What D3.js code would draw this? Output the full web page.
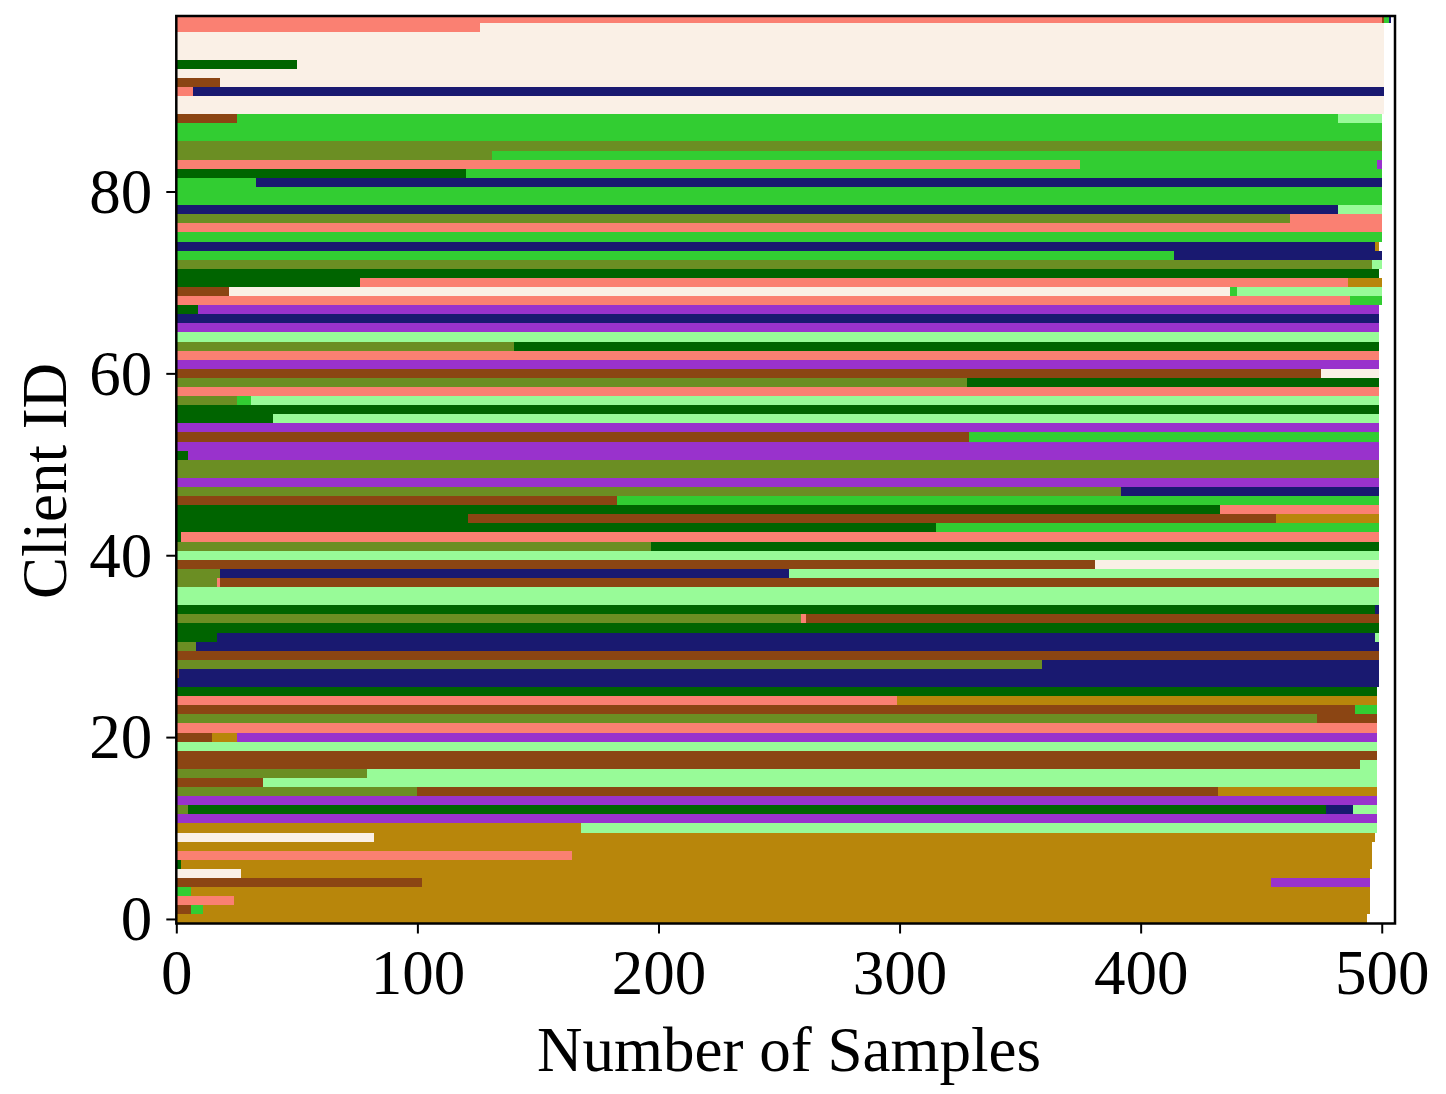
<!DOCTYPE html>
<html>
<head>
<meta charset="utf-8">
<script src="https://d3js.org/d3.v7.min.js"></script>
<style>
   body { margin: 0; background: #fff; }
   text { font-family: "Liberation Serif", "Times New Roman", serif; }
</style>
</head>
<body>
<svg id="chart" width="1446" height="1094"></svg>
<script>
// class colours, in stacking order
var classColors = ["#6b8e23", "#006400", "#fa8072", "#8b4513", "#faf0e6",
                   "#32cd32", "#191970", "#b8860b", "#9932cc", "#98fb98"];

var clientIds = d3.range(100);
var xTicks = [0, 100, 200, 300, 400, 500];
var yTicks = [0, 20, 40, 60, 80];

// samples per client (index = client id), one array per class
var class0 = [0,0,0,0,0,0,0,0,0,0, 0,0,5,0,100,0,79,0,0,0, 0,0,473,0,0,0,0,0,359,0, 8,0,0,259,0,0,0,17,18,0,
              0,197,0,0,0,0,0,392,0,499, 499,0,0,0,0,0,0,25,0,328, 0,0,0,140,0,0,0,0,0,0, 0,0,496,0,0,0,0,462,0,0,
              0,0,0,0,131,500,0,0,0,0, 0,0,0,0,0,0,0,0,0,0];
var class1 = [0,0,0,0,0,0,2,0,0,0, 0,0,472,0,0,0,0,0,0,0, 0,0,0,0,0,498,0,0,0,0, 0,17,499,0,497,0,0,0,0,0,
              0,302,2,315,121,433,0,0,0,0, 0,5,0,0,0,40,499,0,0,171, 0,0,0,359,0,0,0,9,0,0, 76,499,0,0,0,0,0,0,0,0,
              0,0,120,0,0,0,0,0,0,0, 0,0,0,0,50,0,0,0,0,0];
var class2 = [0,0,24,0,0,0,0,164,0,0, 0,0,0,0,0,0,0,0,0,0, 0,498,0,0,299,0,0,0,0,0, 0,0,0,2,0,0,0,1,0,0,
              0,0,497,0,0,66,0,0,0,0, 0,0,0,0,0,0,0,0,499,0, 0,0,499,0,0,0,0,0,487,0, 410,0,0,0,0,0,500,38,0,0,
              0,0,0,375,0,0,0,0,0,0, 0,7,0,0,0,0,0,0,126,500];
var class3 = [0,6,0,0,102,0,0,0,0,0, 0,0,0,0,332,36,0,491,498,0, 15,0,25,489,0,0,0,1,0,499, 0,0,0,238,0,0,0,481,0,381,
              0,0,0,0,335,0,183,0,0,0, 0,0,0,329,0,0,0,0,0,0, 475,0,0,0,0,0,0,0,0,22, 0,0,0,0,0,0,0,0,0,0,
              0,0,0,0,0,0,0,0,25,0, 0,0,18,0,0,0,0,0,0,1];
var class4 = [0,0,0,0,0,27,0,0,0,82, 0,0,0,0,0,0,0,0,0,0, 0,0,0,0,0,0,0,0,0,0, 0,0,0,0,0,0,0,0,0,118,
              0,0,0,0,0,0,0,0,0,0, 0,0,0,0,0,0,0,0,0,0, 24,0,0,0,0,0,0,0,0,415, 0,0,0,0,0,0,0,0,0,0,
              0,0,0,0,0,0,0,0,0,501, 501,0,483,501,451,501,501,501,375,0];
var class5 = [0,5,0,6,0,0,0,0,0,0, 0,0,0,0,0,0,0,0,0,0, 0,0,0,9,0,0,0,0,0,0, 0,0,0,0,0,0,0,0,0,0,
              0,0,0,184,0,0,316,0,0,0, 0,0,0,170,0,0,0,6,0,0, 0,0,0,0,0,0,0,0,13,3, 0,0,0,414,0,500,0,0,0,500,
              500,33,380,123,369,0,500,500,457,0, 0,0,0,0,0,0,0,0,0,2];
var class6 = [0,0,0,0,0,0,0,0,0,0, 0,0,11,0,0,0,0,0,0,0, 0,0,0,0,0,0,499,498,140,0, 491,480,0,0,2,0,0,0,236,0,
              0,0,0,0,0,0,0,107,0,0, 0,0,0,0,0,0,0,0,0,0, 0,0,0,0,0,0,499,0,0,0, 0,0,0,86,497,0,0,0,482,0,
              0,467,0,0,0,0,0,0,0,0, 0,494,0,0,0,0,0,0,0,1];
var class7 = [494,484,471,489,352,468,494,332,496,415, 168,0,0,0,66,0,0,0,0,0, 10,0,0,0,199,0,0,0,0,0, 0,0,0,0,0,0,0,0,0,0,
              0,0,0,0,43,0,0,0,0,0, 0,0,0,0,0,0,0,0,0,0, 0,0,0,0,0,0,0,0,0,0, 14,0,0,0,2,0,0,0,0,0,
              0,0,0,0,0,0,0,0,0,0, 0,0,0,0,0,0,0,0,0,0];
var class8 = [0,0,0,0,41,0,0,0,0,0, 0,498,0,498,0,0,0,0,0,0, 473,0,0,0,0,0,0,0,0,0, 0,0,0,0,0,0,0,0,0,0,
              0,0,0,0,0,0,0,0,499,0, 0,494,499,0,499,0,0,0,0,0, 0,499,0,0,0,499,0,490,0,0, 0,0,0,0,0,0,0,0,0,0,
              0,0,0,2,0,0,0,0,0,0, 0,0,0,0,0,0,0,0,0,0];
var class9 = [0,0,0,0,0,0,0,0,0,0, 330,0,10,0,0,462,419,7,0,498, 0,0,0,0,0,0,0,0,0,0, 0,2,0,0,0,499,499,0,245,0,
              499,0,0,0,0,0,0,0,0,0, 0,0,0,0,0,459,0,468,0,0, 0,0,0,0,499,0,0,0,0,60, 0,0,4,0,0,0,0,0,18,0,
              0,0,0,0,0,0,0,0,18,0, 0,0,0,0,0,0,0,0,0,0];

var classSeries = [class0, class1, class2, class3, class4, class5, class6, class7, class8, class9];

var fontSize = "63px";

window.onload = function() {
   drawChart();
};

function drawChart() {
   var svg = d3.select("#chart");
   var left = 176.3, right = 1395, top = 16, bottom = 923.5;

   var x = d3.scaleLinear().domain([0, 505.5]).range([left, right]);
   var y = d3.scaleLinear().domain([-0.5, 99.3]).range([bottom, top]);

   // one row per client, one key per class
   var rows = clientIds.map(function(id) {
      var r = { id: id };
      classSeries.forEach(function(s, k) { r[k] = s[id]; });
      return r;
   });
   var stacked = d3.stack().keys(d3.range(classSeries.length))(rows);

   svg.append("clipPath")
      .attr("id", "plotclip")
      .append("rect")
      .attr("x", left)
      .attr("y", top)
      .attr("width", right - left)
      .attr("height", bottom - top);

   var bars = svg.append("g")
      .attr("clip-path", "url(#plotclip)")
      .attr("shape-rendering", "crispEdges");

   stacked.forEach(function(layer, k) {
      bars.append("g")
         .attr("fill", classColors[k])
         .selectAll("rect")
         .data(layer.filter(function(d) { return d[1] > d[0]; }))
         .join("rect")
         .attr("x", function(d) { return x(d[0]); })
         .attr("width", function(d) { return x(d[1]) - x(d[0]); })
         .attr("y", function(d) { return y(d.data.id + 0.5); })
         .attr("height", function(d) { return y(d.data.id - 0.5) - y(d.data.id + 0.5); });
   });

   var xAxis = svg.append("g")
      .attr("transform", "translate(0," + bottom + ")")
      .call(d3.axisBottom(x).tickValues(xTicks).tickSize(10).tickPadding(16));
   var yAxis = svg.append("g")
      .attr("transform", "translate(" + left + ",0)")
      .call(d3.axisLeft(y).tickValues(yTicks).tickSize(10).tickPadding(14));

   [xAxis, yAxis].forEach(function(a) {
      a.select(".domain").remove();
      a.selectAll(".tick line").attr("stroke", "#000").attr("stroke-width", 2);
      a.selectAll(".tick text")
         .attr("fill", "#000")
         .style("font-size", fontSize)
         .style("font-family", "'Liberation Serif', 'Times New Roman', serif");
   });
   yAxis.selectAll(".tick text").attr("dy", "0.33em");

   // frame
   svg.append("rect")
      .attr("x", left)
      .attr("y", top)
      .attr("width", right - left)
      .attr("height", bottom - top)
      .attr("fill", "none")
      .attr("stroke", "#000")
      .attr("stroke-width", 2.5);

   svg.append("text")
      .attr("x", 789)
      .attr("y", 1071)
      .attr("text-anchor", "middle")
      .style("font-size", fontSize)
      .text("Number of Samples");

   svg.append("text")
      .attr("transform", "translate(66,481) rotate(-90)")
      .attr("text-anchor", "middle")
      .style("font-size", fontSize)
      .text("Client ID");
}
</script>
</body>
</html>
